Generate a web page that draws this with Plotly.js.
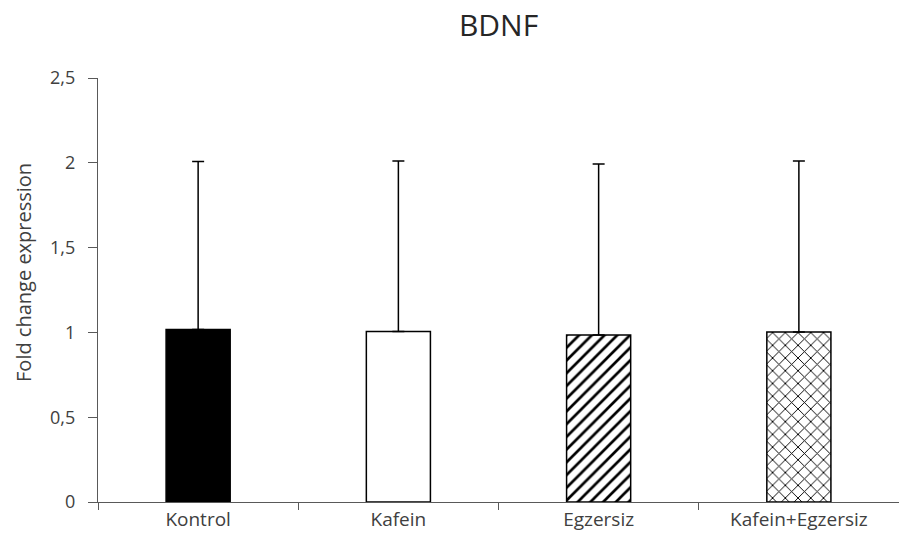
<!DOCTYPE html>
<html>
<head>
<meta charset="utf-8">
<script src="https://cdn.plot.ly/plotly-3.0.1.min.js"></script>
<style>
  html, body { margin: 0; padding: 0; background: #fff; }
  #chart { width: 899px; height: 552px; }
</style>
</head>
<body>
<div id="chart"></div>
<script>
// BDNF expression per group (mean fold change and upper error)
const groups = ["Kontrol", "Kafein", "Egzersiz", "Kafein+Egzersiz"];
const meanFold = [1.017, 1.005, 0.985, 1.002];
const errUpper = [0.99, 1.005, 1.008, 1.008];

const yTickVals = [0, 0.5, 1, 1.5, 2, 2.5];
const yTickText = ["0", "0,5", "1", "1,5", "2", "2,5"];

// fill style for each group: solid black, open, diagonal hatch, cross hatch
const fillColors = ["#000000", "#ffffff", "#ffffff", "#ffffff"];
const patternShapes = ["", "", "/", "x"];
const patternSizes = [8, 8, 9, 9];
const patternSolidity = [0.3, 0.3, 0.3, 0.2];

const axisColor = "#595959";
const textColor = "#404040";
const font = "Open Sans, DejaVu Sans, sans-serif";

// one trace per group so each bar carries its own fill pattern
const traces = groups.map((g, i) => {
  const marker = {
    color: fillColors[i],
    line: { color: "#000000", width: 1.5 }
  };
  if (patternShapes[i]) {
    marker.pattern = {
      shape: patternShapes[i],
      fgcolor: "#000000",
      bgcolor: "#ffffff",
      size: patternSizes[i],
      solidity: patternSolidity[i]
    };
  }
  return {
    type: "bar",
    name: g,
    x: [g],
    y: [meanFold[i]],
    width: 0.32,
    marker: marker,
    error_y: {
      type: "data",
      symmetric: false,
      array: [errUpper[i]],
      arrayminus: [0],
      color: "#000000",
      thickness: 1.5,
      width: 6
    },
    hoverinfo: "skip"
  };
});

const layout = {
  width: 899,
  height: 552,
  margin: { l: 98, r: 0, t: 78, b: 50 },
  paper_bgcolor: "#ffffff",
  plot_bgcolor: "#ffffff",
  showlegend: false,
  barmode: "overlay",
  title: {
    text: "BDNF",
    x: 0.5,
    xref: "paper",
    y: 0.972,
    yref: "container",
    yanchor: "top",
    font: { family: font, size: 30, color: "#262626" }
  },
  xaxis: {
    type: "category",
    categoryorder: "array",
    categoryarray: groups,
    range: [-0.5, 3.5],
    showline: true,
    linecolor: axisColor,
    linewidth: 1.3,
    showgrid: false,
    zeroline: false,
    ticks: "outside",
    tickson: "boundaries",
    ticklen: 7,
    tickcolor: axisColor,
    tickwidth: 1.3,
    tickfont: { family: font, size: 19, color: textColor }
  },
  yaxis: {
    range: [0, 2.5],
    showline: true,
    linecolor: axisColor,
    linewidth: 1.3,
    showgrid: false,
    zeroline: false,
    ticks: "outside",
    ticklen: 9,
    tickcolor: axisColor,
    tickwidth: 1.3,
    tickvals: yTickVals,
    ticktext: yTickText,
    ticklabelstandoff: 9,
    tickfont: { family: font, size: 18, color: textColor }
  },
  // vertical axis caption, sitting a little above the axis middle
  annotations: [{
    text: "Fold change expression",
    xref: "paper",
    yref: "paper",
    x: -0.0924,
    y: 0.5425,
    xanchor: "center",
    yanchor: "middle",
    textangle: -90,
    showarrow: false,
    font: { family: font, size: 20, color: textColor }
  }]
};

Plotly.newPlot("chart", traces, layout, { displayModeBar: false });
</script>
</body>
</html>
